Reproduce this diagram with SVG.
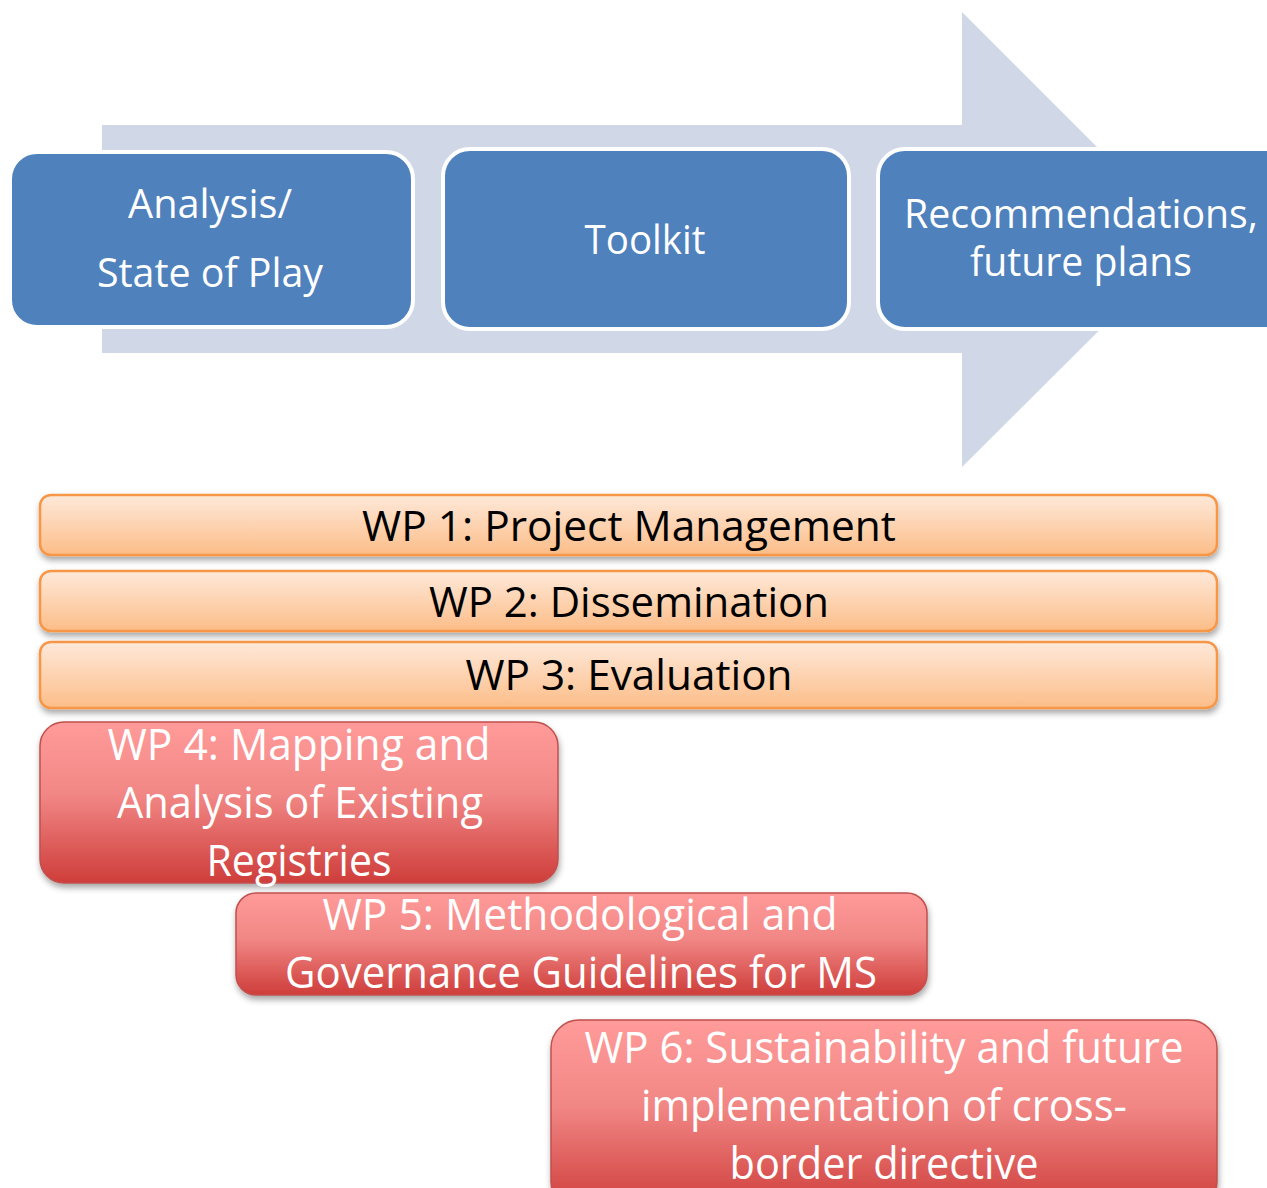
<svg xmlns="http://www.w3.org/2000/svg" width="1267" height="1188" viewBox="0 0 1267 1188">
<defs>
<linearGradient id="gOrange" x1="0" y1="0" x2="0" y2="1">
<stop offset="0" stop-color="#FEE9DA"/>
<stop offset="1" stop-color="#FCBD88"/>
</linearGradient>
<linearGradient id="gRed" x1="0" y1="0" x2="0" y2="1">
<stop offset="0" stop-color="#FF9B9A"/>
<stop offset="0.45" stop-color="#F18785"/>
<stop offset="1" stop-color="#CE3D3A"/>
</linearGradient>
<filter id="shadow" x="-5%" y="-20%" width="110%" height="150%">
<feDropShadow dx="1" dy="4" stdDeviation="3" flood-color="#000" flood-opacity="0.35"/>
</filter>
</defs>
<style>
.blue{fill:#4F81BD;stroke:#FFFFFF;stroke-width:4}
.orange{fill:url(#gOrange);stroke:#F79646;stroke-width:2.5;filter:url(#shadow)}
.red{fill:url(#gRed);stroke:#C0504D;stroke-width:1.5;filter:url(#shadow)}
.tw{font-family:"Open Sans","Noto Sans",sans-serif;fill:#FFFFFF;text-anchor:middle}
.tb{font-family:"Open Sans","Noto Sans",sans-serif;fill:#000000;text-anchor:middle}
</style>
<rect width="1267" height="1188" fill="#FFFFFF"/>
<g id="connectors">
<polygon points="102,125 962,125 962,12 1190,240 962,467 962,353 102,353" fill="#D0D8E8"/>
</g>
<g id="stage1">
<rect class="blue" x="10" y="152" width="403" height="175" rx="27"/>
<text class="tw" x="210" y="218" font-size="40" textLength="164" lengthAdjust="spacingAndGlyphs">Analysis/</text>
<text class="tw" x="210" y="287" font-size="40" textLength="226" lengthAdjust="spacingAndGlyphs">State of Play</text>
</g>
<g id="stage2">
<rect class="blue" x="443" y="149" width="406" height="180" rx="27"/>
<text class="tw" x="645" y="254" font-size="40" textLength="121" lengthAdjust="spacingAndGlyphs">Toolkit</text>
</g>
<g id="stage3">
<rect class="blue" x="878" y="149" width="420" height="180" rx="27"/>
<text class="tw" x="1081" y="228" font-size="40" textLength="354" lengthAdjust="spacingAndGlyphs">Recommendations,</text>
<text class="tw" x="1081" y="276" font-size="40" textLength="222" lengthAdjust="spacingAndGlyphs">future plans</text>
</g>
<g id="wp1">
<rect class="orange" x="40" y="495" width="1177" height="60" rx="11"/>
<text class="tb" x="629" y="541" font-size="42" textLength="534" lengthAdjust="spacingAndGlyphs">WP 1: Project Management</text>
</g>
<g id="wp2">
<rect class="orange" x="40" y="571" width="1177" height="60" rx="11"/>
<text class="tb" x="629" y="617" font-size="42" textLength="400" lengthAdjust="spacingAndGlyphs">WP 2: Dissemination</text>
</g>
<g id="wp3">
<rect class="orange" x="40" y="642" width="1177" height="66" rx="11"/>
<text class="tb" x="629" y="690" font-size="42" textLength="327" lengthAdjust="spacingAndGlyphs">WP 3: Evaluation</text>
</g>
<g id="wp4">
<rect class="red" x="40" y="722" width="518" height="161" rx="24"/>
<text class="tw" x="299" y="760" font-size="44" textLength="383" lengthAdjust="spacingAndGlyphs">WP 4: Mapping and</text>
<text class="tw" x="300" y="818" font-size="44" textLength="366" lengthAdjust="spacingAndGlyphs">Analysis of Existing</text>
<text class="tw" x="299" y="876" font-size="44" textLength="185" lengthAdjust="spacingAndGlyphs">Registries</text>
</g>
<g id="wp5">
<rect class="red" x="236" y="893" width="691" height="102" rx="20"/>
<text class="tw" x="580" y="930" font-size="44" textLength="515" lengthAdjust="spacingAndGlyphs">WP 5: Methodological and</text>
<text class="tw" x="581" y="988" font-size="44" textLength="592" lengthAdjust="spacingAndGlyphs">Governance Guidelines for MS</text>
</g>
<g id="wp6">
<rect class="red" x="551" y="1020" width="666" height="190" rx="28"/>
<text class="tw" x="884" y="1063" font-size="44" textLength="599" lengthAdjust="spacingAndGlyphs">WP 6: Sustainability and future</text>
<text class="tw" x="884" y="1121" font-size="44" textLength="486" lengthAdjust="spacingAndGlyphs">implementation of cross-</text>
<text class="tw" x="884" y="1179" font-size="44" textLength="309" lengthAdjust="spacingAndGlyphs">border directive</text>
</g>
</svg>
